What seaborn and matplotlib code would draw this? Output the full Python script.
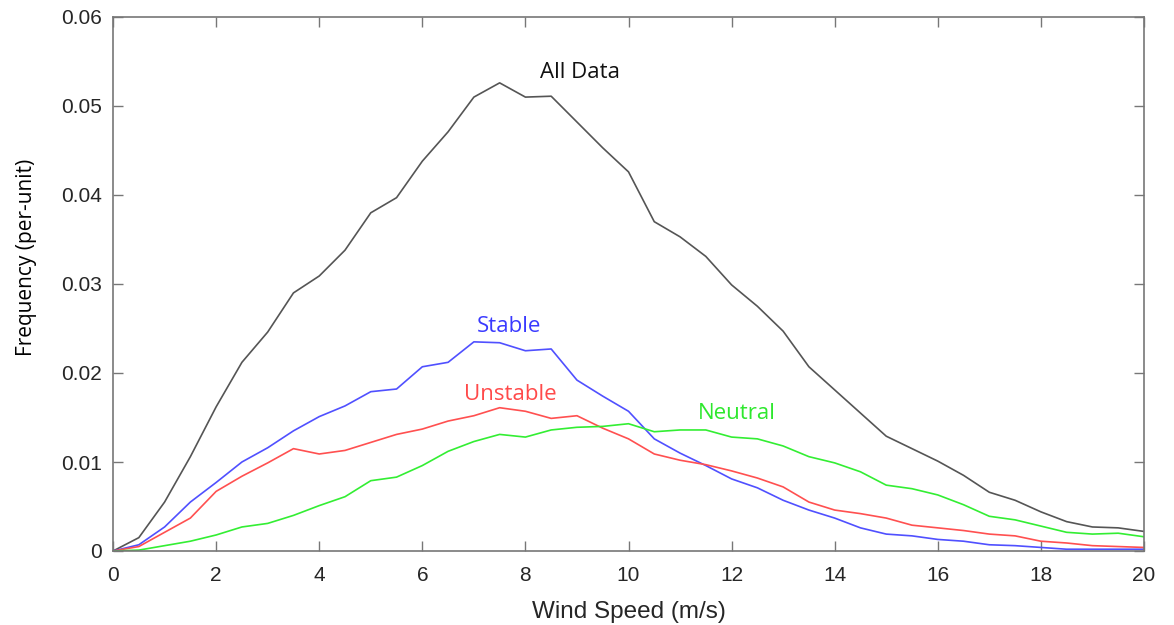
import numpy as np
import pandas as pd
import matplotlib
matplotlib.use("Agg")
import matplotlib.pyplot as plt
import seaborn as sns

# Wind speed bins (m/s)
wind_speed = [0, 0.5, 1, 1.5, 2, 2.5, 3, 3.5, 4, 4.5, 5, 5.5, 6, 6.5, 7, 7.5, 8, 8.5, 9, 9.5,
              10, 10.5, 11, 11.5, 12, 12.5, 13, 13.5, 14, 14.5, 15, 15.5, 16, 16.5, 17, 17.5,
              18, 18.5, 19, 19.5, 20]

# Frequency (per-unit) for each stability class
all_data = [0.0, 0.0015, 0.0055, 0.0106, 0.0162, 0.0212, 0.0246, 0.0290, 0.0309, 0.0338,
            0.0380, 0.0397, 0.0438, 0.0471, 0.0510, 0.0526, 0.0510, 0.0511, 0.0482, 0.0453,
            0.0426, 0.0370, 0.0353, 0.0331, 0.0299, 0.0275, 0.0247, 0.0207, 0.0181, 0.0155,
            0.0129, 0.0115, 0.0101, 0.0085, 0.0066, 0.0057, 0.0044, 0.0033, 0.0027, 0.0026,
            0.0022]
stable = [0.0, 0.0007, 0.0027, 0.0055, 0.0077, 0.0100, 0.0116, 0.0135, 0.0151, 0.0163,
          0.0179, 0.0182, 0.0207, 0.0212, 0.0235, 0.0234, 0.0225, 0.0227, 0.0192, 0.0174,
          0.0157, 0.0126, 0.0110, 0.0096, 0.0081, 0.0071, 0.0057, 0.0046, 0.0037, 0.0026,
          0.0019, 0.0017, 0.0013, 0.0011, 0.0007, 0.0006, 0.0004, 0.0002, 0.0002, 0.0002,
          0.0002]
unstable = [0.0, 0.0005, 0.0021, 0.0037, 0.0067, 0.0084, 0.0099, 0.0115, 0.0109, 0.0113,
            0.0122, 0.0131, 0.0137, 0.0146, 0.0152, 0.0161, 0.0157, 0.0149, 0.0152, 0.0138,
            0.0126, 0.0109, 0.0102, 0.0097, 0.0090, 0.0082, 0.0072, 0.0055, 0.0046, 0.0042,
            0.0037, 0.0029, 0.0026, 0.0023, 0.0019, 0.0017, 0.0011, 0.0009, 0.0006, 0.0005,
            0.0004]
neutral = [0.0, 0.0001, 0.0006, 0.0011, 0.0018, 0.0027, 0.0031, 0.0040, 0.0051, 0.0061,
           0.0079, 0.0083, 0.0096, 0.0112, 0.0123, 0.0131, 0.0128, 0.0136, 0.0139, 0.0140,
           0.0143, 0.0134, 0.0136, 0.0136, 0.0128, 0.0126, 0.0118, 0.0106, 0.0099, 0.0089,
           0.0074, 0.0070, 0.0063, 0.0052, 0.0039, 0.0035, 0.0028, 0.0021, 0.0019, 0.0020,
           0.0016]

series_names = ["All Data", "Stable", "Unstable", "Neutral"]
series_colors = {"All Data": "#555555", "Stable": "#5050ff",
                 "Unstable": "#ff5050", "Neutral": "#33ee33"}
label_colors = {"All Data": "#111111", "Stable": "#3a3aff",
                "Unstable": "#ff4a4a", "Neutral": "#2ee82e"}
x_ticks = [0, 2, 4, 6, 8, 10, 12, 14, 16, 18, 20]
y_ticks = [0, 0.01, 0.02, 0.03, 0.04, 0.05, 0.06]
y_tick_labels = ["0", "0.01", "0.02", "0.03", "0.04", "0.05", "0.06"]

df = pd.concat([
    pd.DataFrame({"speed": wind_speed, "freq": vals, "series": name})
    for name, vals in zip(series_names, [all_data, stable, unstable, neutral])
], ignore_index=True)

sns.set_theme(style="white")
tick_font = ["Liberation Sans", "DejaVu Sans"]
label_font = ["Open Sans", "DejaVu Sans"]

fig = plt.figure(figsize=(11.74, 6.25), dpi=100)
ax = fig.add_axes([0.0963, 0.1184, 0.8781, 0.8544])

sns.lineplot(data=df, x="speed", y="freq", hue="series", hue_order=series_names,
             palette=series_colors, linewidth=1.2, legend=False, ax=ax)

ax.set_xlim(0, 20)
ax.set_ylim(0, 0.06)
ax.set_xticks(x_ticks)
ax.set_xticklabels([str(t) for t in x_ticks], fontsize=15, family=tick_font, color="#262626")
ax.set_yticks(y_ticks)
ax.set_yticklabels(y_tick_labels, fontsize=15, family=tick_font, color="#262626")
ax.tick_params(axis="both", direction="in", length=7, width=1, color="#777777",
               top=True, right=True, bottom=True, left=True)
ax.tick_params(axis="y", pad=8)
ax.tick_params(axis="x", pad=11)
for side in ["left", "right", "top", "bottom"]:
    ax.spines[side].set_visible(True)
    ax.spines[side].set_color("#777777")
    ax.spines[side].set_linewidth(1.2)

ax.set_xlabel("Wind Speed (m/s)", fontsize=17.5, family=tick_font, color="#262626")
ax.xaxis.set_label_coords(0.5, -0.094)
ax.set_ylabel("Frequency (per-unit)", fontsize=15, family=label_font, color="#000000")
ax.yaxis.set_label_coords(-0.074, 0.55)

# Curve annotations
ax.text(9.06, 0.0538, "All Data", fontsize=16, family=label_font, color=label_colors["All Data"],
        ha="center", va="center")
ax.text(7.68, 0.0252, "Stable", fontsize=16, family=label_font, color=label_colors["Stable"],
        ha="center", va="center")
ax.text(7.70, 0.0176, "Unstable", fontsize=16, family=label_font, color=label_colors["Unstable"],
        ha="center", va="center")
ax.text(12.10, 0.0155, "Neutral", fontsize=16, family=label_font, color=label_colors["Neutral"],
        ha="center", va="center")

fig.savefig("out.png", dpi=100, facecolor="white")
